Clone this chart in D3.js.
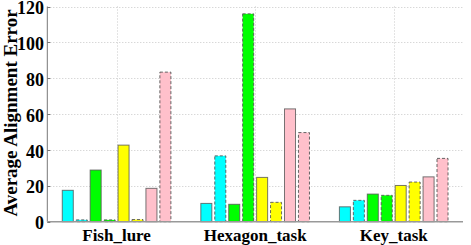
<!DOCTYPE html>
<html><head><meta charset="utf-8">
<script src="https://cdn.jsdelivr.net/npm/d3@7"></script>
<style>body{margin:0;background:#fff}svg{display:block}text{font-family:"Liberation Serif","Times New Roman",Times,serif;font-weight:bold}</style>
</head><body><svg id="c" width="471" height="245"></svg>
<script>
const categories = ["Fish_lure", "Hexagon_task", "Key_task"];
const seriesNames = ["cyan solid","cyan dashed","green solid","green dashed","yellow solid","yellow dashed","pink solid","pink dashed"];
const seriesColors = ["#00ffff","#00ffff","#00ff00","#00ff00","#ffff00","#ffff00","#ffc0cb","#ffc0cb"];
const seriesDashed = [false,true,false,true,false,true,false,true];
const fishLure = [17.5, 1.0, 28.8, 1.0, 42.7, 1.2, 18.6, 83.4];
const hexagonTask = [10.2, 36.7, 9.7, 115.9, 24.7, 10.8, 62.9, 49.7];
const keyTask = [8.3, 11.9, 15.4, 14.7, 20.2, 22.1, 25.0, 35.3];
const values = [fishLure, hexagonTask, keyTask];
const yTicks = [0, 20, 40, 60, 80, 100, 120];

const svg = d3.select("#c");
const m = {left: 47.3, right: 463, top: 6.5, bottom: 221.7};
const x0 = d3.scaleBand().domain(categories).range([m.left, m.right]).padding(0);
const bw = x0.bandwidth();
const x1 = d3.scaleBand().domain(d3.range(seriesNames.length))
  .range([bw*0.1, bw*0.9]).paddingInner(0.21).paddingOuter(0.08);
const y = d3.scaleLinear().domain([0,120]).range([m.bottom, m.top]);

// grid
const g = svg.append("g");
g.selectAll(".hg").data(yTicks.slice(1)).join("line")
  .attr("x1", m.left).attr("x2", m.right)
  .attr("y1", d=>Math.round(y(d))+0.5).attr("y2", d=>Math.round(y(d))+0.5)
  .attr("stroke","#c8c8c8").attr("stroke-width",1).attr("stroke-dasharray","1,2");
g.selectAll(".vg").data(categories).join("line")
  .attr("x1", d=>Math.round(x0(d)+bw/2)+0.5).attr("x2", d=>Math.round(x0(d)+bw/2)+0.5)
  .attr("y1", m.top).attr("y2", m.bottom)
  .attr("stroke","#c8c8c8").attr("stroke-width",1).attr("stroke-dasharray","1,2");

// bars
const groups = svg.append("g").selectAll("g").data(categories).join("g")
  .attr("transform", d=>`translate(${x0(d)},0)`);
groups.selectAll("rect").data((d,i)=>values[i].map((v,j)=>({v,j})))
  .join("rect")
  .attr("x", d=>x1(d.j)).attr("width", x1.bandwidth())
  .attr("y", d=>y(d.v)).attr("height", d=>m.bottom - y(d.v))
  .attr("fill", d=>seriesColors[d.j])
  .attr("stroke", "#555")
  .attr("stroke-opacity", d=>seriesDashed[d.j] ? 0.9 : 0.8)
  .attr("stroke-width", 1)
  .attr("stroke-dasharray", d=>seriesDashed[d.j] ? "3,2" : null);

// axes
svg.append("line").attr("x1", m.left).attr("x2", m.left).attr("y1", m.top).attr("y2", m.bottom)
  .attr("stroke","#777").attr("stroke-width",1);
svg.append("line").attr("x1", m.left).attr("x2", m.right).attr("y1", m.bottom).attr("y2", m.bottom)
  .attr("stroke","#999").attr("stroke-width",1.6);
svg.selectAll(".yt").data(yTicks).join("line")
  .attr("x1", m.left).attr("x2", m.left+3).attr("y1", d=>Math.round(y(d))+0.5).attr("y2", d=>Math.round(y(d))+0.5)
  .attr("stroke","#777");
svg.selectAll(".yl").data(yTicks).join("text")
  .attr("x", 44).attr("y", d=>y(d)).attr("dy","0.42em")
  .attr("text-anchor","end")
  .attr("font-size",18).attr("fill","#000").text(d=>d);
svg.selectAll(".xl").data(categories).join("text")
  .attr("x", d=>x0(d)+bw/2).attr("y", 240.5)
  .attr("text-anchor","middle")
  .attr("font-size",17).attr("fill","#000").text(d=>d);
svg.append("text").attr("transform","translate(17,113) rotate(-90)")
  .attr("text-anchor","middle")
  .attr("font-size",19).attr("fill","#000").text("Average Alignment Error");
</script></body></html>
